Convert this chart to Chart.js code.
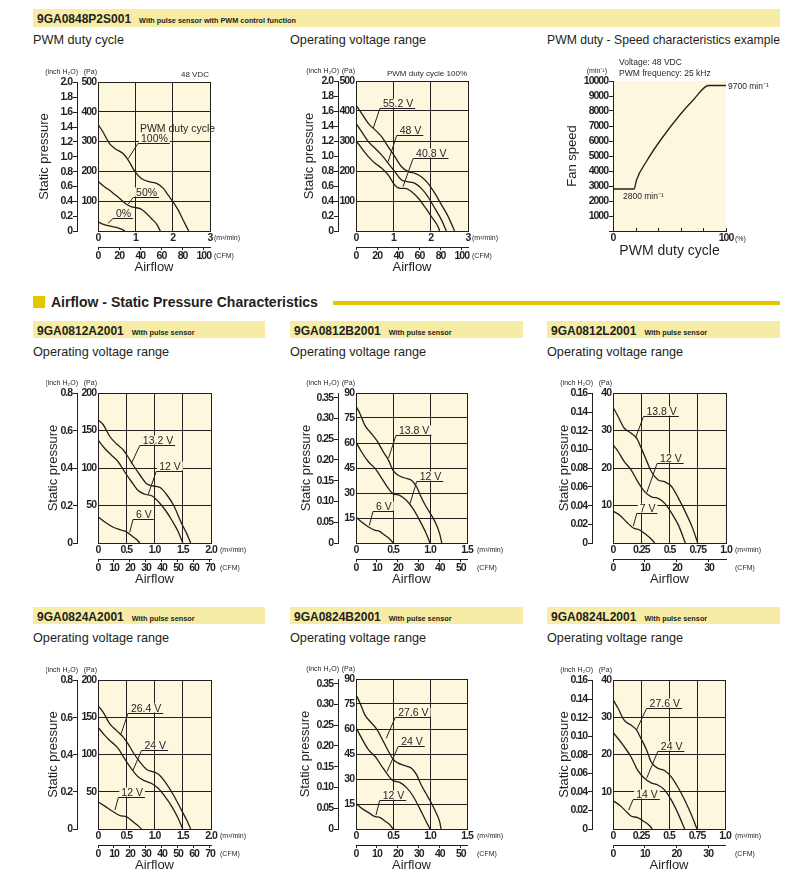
<!DOCTYPE html>
<html>
<head>
<meta charset="utf-8">
<title>9GA08 fan characteristics</title>
<script src="https://cdn.jsdelivr.net/npm/chart.js@4.4.1/dist/chart.umd.min.js"></script>
<style>
  body { margin: 0; width: 797px; height: 881px; position: relative; overflow: hidden; background: #fff;
         font-family: "Liberation Sans", Arial, sans-serif; color: #231f20; }
  .bar { position: absolute; height: 17px; line-height: 17px; background: #f6eca6; white-space: nowrap; }
  .bar b { font-size: 12px; margin-left: 4px; }
  .bar small { font-size: 7.3px; font-weight: bold; margin-left: 8px; color: #231f20; }
  .sub { position: absolute; font-size: 12.7px; line-height: 15px; white-space: nowrap; }
  .sect { position: absolute; left: 51px; top: 294px; font-size: 14px; line-height: 16px; font-weight: bold; white-space: nowrap; }
  canvas { position: absolute; }
</style>
</head>
<body>
<div class="bar" style="left:33px;top:9px;width:747px;height:18px;line-height:18px"><b>9GA0848P2S001</b><small>With pulse sensor with PWM control function</small></div>
<div class="sub" style="left:33px;top:33px">PWM duty cycle</div>
<div class="sub" style="left:290px;top:33px">Operating voltage range</div>
<div class="sub" style="left:547px;top:33px;font-size:12.2px">PWM duty - Speed characteristics example</div>

<div style="position:absolute;left:33px;top:296px;width:12px;height:12px;background:#e3c800"></div>
<div class="sect">Airflow - Static Pressure Characteristics</div>
<div style="position:absolute;left:333px;top:301px;width:447px;height:4px;background:#e3c800"></div>

<div class="bar" style="left:33px;top:321px;width:232px"><b>9GA0812A2001</b><small>With pulse sensor</small></div>
<div class="bar" style="left:290px;top:321px;width:233px"><b>9GA0812B2001</b><small>With pulse sensor</small></div>
<div class="bar" style="left:547px;top:321px;width:233px"><b>9GA0812L2001</b><small>With pulse sensor</small></div>
<div class="sub" style="left:33px;top:345px">Operating voltage range</div>
<div class="sub" style="left:290px;top:345px">Operating voltage range</div>
<div class="sub" style="left:547px;top:345px">Operating voltage range</div>

<div class="bar" style="left:33px;top:607px;width:232px"><b>9GA0824A2001</b><small>With pulse sensor</small></div>
<div class="bar" style="left:290px;top:607px;width:233px"><b>9GA0824B2001</b><small>With pulse sensor</small></div>
<div class="bar" style="left:547px;top:607px;width:233px"><b>9GA0824L2001</b><small>With pulse sensor</small></div>
<div class="sub" style="left:33px;top:631px">Operating voltage range</div>
<div class="sub" style="left:290px;top:631px">Operating voltage range</div>
<div class="sub" style="left:547px;top:631px">Operating voltage range</div>

<script>
const INK = '#231f20';
const CREAM = '#fcf7dd';
const SANS = '"Liberation Sans", Arial, sans-serif';
const PA_PER_INCH = 249.089;
const CFM_PER_M3 = 35.3147;

// ---- axis ticks ----
const paTicks500 = [0, 100, 200, 300, 400, 500];
const paLabels500 = ['', '100', '200', '300', '400', '500'];
const inchTicks20 = [0, 0.2, 0.4, 0.6, 0.8, 1.0, 1.2, 1.4, 1.6, 1.8, 2.0];
const inchLabels20 = ['0', '0.2', '0.4', '0.6', '0.8', '1.0', '1.2', '1.4', '1.6', '1.8', '2.0'];
const flowTicks3 = [0, 1, 2, 3];
const flowLabels3 = ['0', '1', '2', '3'];
const cfmTicks100 = [0, 20, 40, 60, 80, 100];

const paTicks200 = [0, 50, 100, 150, 200];
const paLabels200 = ['', '50', '100', '150', '200'];
const inchTicks08 = [0, 0.2, 0.4, 0.6, 0.8];
const inchLabels08 = ['0', '0.2', '0.4', '0.6', '0.8'];
const flowTicks2 = [0, 0.5, 1.0, 1.5, 2.0];
const flowLabels2 = ['0', '0.5', '1.0', '1.5', '2.0'];
const cfmTicks70 = [0, 10, 20, 30, 40, 50, 60, 70];

const paTicks90 = [0, 15, 30, 45, 60, 75, 90];
const paLabels90 = ['', '15', '30', '45', '60', '75', '90'];
const inchTicks035 = [0, 0.05, 0.10, 0.15, 0.20, 0.25, 0.30, 0.35];
const inchLabels035 = ['0', '0.05', '0.10', '0.15', '0.20', '0.25', '0.30', '0.35'];
const flowTicks15 = [0, 0.5, 1.0, 1.5];
const flowLabels15 = ['0', '0.5', '1.0', '1.5'];
const cfmTicks50 = [0, 10, 20, 30, 40, 50];

const paTicks40 = [0, 10, 20, 30, 40];
const paLabels40 = ['', '10', '20', '30', '40'];
const inchTicks016 = [0, 0.02, 0.04, 0.06, 0.08, 0.10, 0.12, 0.14, 0.16];
const inchLabels016 = ['0', '0.02', '0.04', '0.06', '0.08', '0.10', '0.12', '0.14', '0.16'];
const flowTicks1 = [0, 0.25, 0.5, 0.75, 1.0];
const flowLabels1 = ['0', '0.25', '0.5', '0.75', '1.0'];
const cfmTicks30 = [0, 10, 20, 30];

const speedTicks = [0, 1000, 2000, 3000, 4000, 5000, 6000, 7000, 8000, 9000, 10000];
const speedLabels = ['', '1000', '2000', '3000', '4000', '5000', '6000', '7000', '8000', '9000', '10000'];
const dutyTicks = [0, 20, 40, 60, 80, 100];
const dutyLabels = ['0', '', '', '', '', '100'];

// ---- 9GA0848P2S001, PWM duty cycle (m3/min, Pa) ----
const p2sQ100 = [0, 0.13, 0.31, 0.45, 0.67, 0.81, 0.99, 1.16, 1.39, 1.57, 1.75, 1.88, 2.01, 2.15, 2.28, 2.43];
const p2sP100 = [358, 333, 293, 277, 260, 238, 199, 176, 165, 160, 143, 120, 98, 70, 37, 0];
const p2sQ50 = [0, 0.18, 0.36, 0.58, 0.76, 0.9, 1.03, 1.16, 1.3, 1.43, 1.57, 1.67];
const p2sP50 = [167, 148, 132, 109, 90, 81, 78, 73, 59, 42, 23, 0];
const p2sQ0 = [0, 0.13, 0.31, 0.49, 0.63, 0.72];
const p2sP0 = [31, 23, 17, 12, 6, 0];

// ---- 9GA0848P2S001, operating voltage range ----
const p2sQ552 = [0, 0.15, 0.33, 0.51, 0.69, 0.86, 1.04, 1.22, 1.4, 1.58, 1.75, 1.93, 2.11, 2.29, 2.47, 2.64];
const p2sP552 = [420, 392, 359, 337, 314, 281, 248, 214, 198, 192, 181, 159, 126, 87, 48, 0];
const p2sQ48 = [0, 0.15, 0.33, 0.51, 0.69, 0.86, 1.04, 1.22, 1.4, 1.58, 1.75, 1.93, 2.11, 2.29, 2.42];
const p2sP48 = [359, 331, 298, 276, 253, 226, 198, 170, 164, 159, 142, 114, 76, 37, 0];
const p2sQ408 = [0, 0.15, 0.33, 0.51, 0.69, 0.86, 1.04, 1.18, 1.31, 1.49, 1.67, 1.84, 2.02, 2.2, 2.24];
const p2sP408 = [301, 276, 248, 226, 209, 187, 153, 142, 142, 131, 109, 81, 48, 14, 0];

// ---- 9GA0848P2S001, PWM duty (%) vs speed (min-1) ----
const dutyPct = [0, 18.7, 20.8, 29.7, 41.5, 59.3, 71.2, 84.6, 100];
const fanSpeed = [2800, 2800, 3400, 4650, 6000, 7750, 8750, 9700, 9700];

// ---- 9GA0812A2001 ----
const a12Q132 = [0, 0.09, 0.21, 0.33, 0.45, 0.53, 0.62, 0.74, 0.86, 0.98, 1.1, 1.22, 1.34, 1.48, 1.57, 1.64];
const a12P132 = [164, 158, 142, 132, 124, 115, 104, 91, 79, 76, 74, 64, 50, 26, 12.5, 0];
const a12Q12 = [0, 0.12, 0.24, 0.36, 0.47, 0.59, 0.71, 0.83, 0.95, 1.07, 1.19, 1.31, 1.42, 1.5];
const a12P12 = [137.5, 126, 117, 108, 95, 82, 70, 65, 63, 55, 44, 30, 15, 0];
const a12Q6 = [0, 0.12, 0.27, 0.42, 0.5, 0.59, 0.68, 0.74];
const a12P6 = [35, 28, 21, 17, 15, 10, 5, 0];

// ---- 9GA0812B2001 ----
const b12Q138 = [0, 0.054, 0.12, 0.19, 0.28, 0.37, 0.44, 0.5, 0.57, 0.66, 0.75, 0.82, 0.88, 0.95, 1.02, 1.09, 1.13, 1.16];
const b12P138 = [82, 77.6, 70.6, 66.6, 61.6, 54.6, 49.6, 43.6, 40.6, 39, 37.6, 33.6, 27.6, 21.6, 16.6, 10.6, 5.6, 0];
const b12Q12 = [0, 0.076, 0.17, 0.26, 0.35, 0.44, 0.5, 0.59, 0.68, 0.77, 0.86, 0.95, 1.0];
const b12P12 = [60.6, 54.6, 48.6, 44.6, 38.6, 32.6, 29.6, 28.6, 25.6, 20.6, 13.6, 5.6, 0];
const b12Q6 = [0, 0.076, 0.17, 0.26, 0.32, 0.39, 0.46, 0.5];
const b12P6 = [15.6, 12.6, 9.6, 7.6, 7, 4.6, 2.2, 0];

// ---- 9GA0812L2001 ----
const l12Q138 = [0, 0.045, 0.1, 0.16, 0.21, 0.25, 0.3, 0.34, 0.4, 0.46, 0.52, 0.58, 0.64, 0.7, 0.75];
const l12P138 = [36.2, 33.75, 30.6, 29.3, 27.9, 25.3, 21.7, 19, 16.8, 16.3, 15, 11.9, 8.3, 4.3, 0];
const l12Q12 = [0, 0.045, 0.1, 0.16, 0.22, 0.28, 0.34, 0.4, 0.46, 0.52, 0.58, 0.64];
const l12P12 = [26.2, 24.4, 21.7, 19.5, 16.3, 13.7, 12.3, 11.9, 10.5, 7.9, 4.7, 0];
const l12Q7 = [0, 0.06, 0.12, 0.18, 0.24, 0.3, 0.34, 0.37];
const l12P7 = [8.5, 7.4, 5.6, 4, 3.4, 2.05, 1, 0];

// ---- 9GA0824A2001 ----
const a24Q264 = [0, 0.09, 0.21, 0.33, 0.45, 0.53, 0.62, 0.74, 0.86, 0.98, 1.07, 1.19, 1.34, 1.48, 1.57, 1.64];
const a24P264 = [165.7, 156.8, 141, 132, 123, 114.5, 103, 90, 80, 76.6, 73.5, 63, 45, 25, 12, 0];
const a24Q24 = [0, 0.12, 0.24, 0.36, 0.47, 0.59, 0.71, 0.83, 0.95, 1.07, 1.19, 1.31, 1.42, 1.5];
const a24P24 = [136.7, 125.6, 116.7, 107.8, 94.4, 81, 70, 64.6, 61, 54.3, 43.2, 29.8, 14.2, 0];
const a24Q12 = [0, 0.12, 0.27, 0.39, 0.5, 0.62, 0.71, 0.77];
const a24P12 = [36.5, 30.7, 23.2, 17.8, 16.5, 9.8, 4.5, 0];

// ---- 9GA0824B2001 ----
const b24Q276 = [0, 0.054, 0.12, 0.19, 0.28, 0.37, 0.44, 0.5, 0.57, 0.66, 0.75, 0.82, 0.88, 0.95, 1.02, 1.09, 1.13, 1.15];
const b24P276 = [80.6, 75.6, 68.5, 64.5, 59.9, 52.5, 46.5, 41.9, 39.5, 38, 36.5, 32.5, 26.5, 21, 15.4, 9, 4.4, 0];
const b24Q24 = [0, 0.076, 0.17, 0.26, 0.35, 0.44, 0.5, 0.59, 0.68, 0.77, 0.86, 0.95, 1.0];
const b24P24 = [60.9, 54.5, 47.5, 43.5, 37.5, 31.9, 29, 28, 25, 19.8, 12.4, 4.4, 0];
const b24Q12 = [0, 0.076, 0.17, 0.26, 0.32, 0.39, 0.46, 0.5];
const b24P12 = [15.4, 12.4, 9.8, 7.4, 7, 4.8, 2.4, 0];

// ---- 9GA0824L2001 ----
const l24Q276 = [0, 0.045, 0.1, 0.16, 0.21, 0.25, 0.3, 0.34, 0.4, 0.46, 0.52, 0.58, 0.64, 0.7, 0.75];
const l24P276 = [34.8, 32.4, 29.2, 27.9, 26.6, 24.3, 21.2, 18.1, 16.3, 15.7, 14, 11.2, 7.8, 3.8, 0];
const l24Q24 = [0, 0.045, 0.1, 0.16, 0.22, 0.28, 0.34, 0.4, 0.46, 0.52, 0.58, 0.64];
const l24P24 = [25.9, 24.3, 22.1, 19.4, 15.8, 13.6, 12.4, 11.8, 10.5, 7.8, 4.2, 0];
const l24Q14 = [0, 0.06, 0.12, 0.16, 0.22, 0.28, 0.33, 0.35];
const l24P14 = [7.6, 6.4, 4.65, 3.5, 3.04, 1.97, 0.8, 0];

const tickFont = { family: SANS, size: 10.5, weight: 'bold' };

function fixedTicks(list) {
    return scale => { scale.ticks = list.map(value => ({ value })); };
}

// cream plot area, curve labels with leader lines, loose texts
function sheetPlugin(g, notes, texts, innerTicks) {
    return {
        id: 'sheet',
        beforeDraw(chart) {
            const { ctx, chartArea: a } = chart;
            ctx.letterSpacing = '0px';
            ctx.save();
            ctx.fillStyle = CREAM;
            ctx.fillRect(a.left, a.top, a.right - a.left, a.bottom - a.top);
            ctx.restore();
        },
        afterDatasetsDraw(chart) {
            const { ctx, chartArea: a } = chart;
            const xs = chart.scales[g.xId], ys = chart.scales[g.yId];
            ctx.save();
            ctx.strokeStyle = INK;
            ctx.fillStyle = INK;
            ctx.lineWidth = 1;
            (innerTicks || []).forEach(v => {
                const px = Math.round(xs.getPixelForValue(v)) + 0.5;
                ctx.beginPath();
                ctx.moveTo(px, a.bottom);
                ctx.lineTo(px, a.bottom - 3);
                ctx.stroke();
            });
            ctx.font = '10.5px ' + SANS;
            ctx.textAlign = 'left';
            ctx.textBaseline = 'alphabetic';
            notes.forEach(n => {
                const ux = xs.getPixelForValue(n.x), uy = Math.round(ys.getPixelForValue(n.y)) + 0.5;
                const w = ctx.measureText(n.t).width;
                ctx.fillStyle = CREAM;
                ctx.fillRect(ux + 1, uy - 10, w + 4, 9);
                ctx.fillStyle = INK;
                ctx.fillText(n.t, ux + 3, uy - 2);
                if (n.pre) ctx.fillText(n.pre, ux + 2, uy - 12);
                ctx.beginPath();
                ctx.moveTo(xs.getPixelForValue(n.tx), ys.getPixelForValue(n.ty));
                ctx.lineTo(ux, uy);
                ctx.lineTo(ux + w + 5, uy);
                ctx.stroke();
            });
            ctx.textBaseline = 'middle';
            texts.forEach(t => {
                ctx.font = t.f;
                ctx.textAlign = t.a || 'left';
                ctx.fillText(t.t, t.x - g.left, t.y - g.top);
            });
            ctx.restore();
            // tick labels are drawn next (ticks.z = 1): tighten them like the condensed print face
            ctx.letterSpacing = '-1px';
        },
        afterDraw(chart) {
            chart.ctx.letterSpacing = '0px';
        }
    };
}

function pqChart(g, curves, ax, notes, texts) {
    const left = g.titleX - 8, top = g.T - 28;
    const width = g.R - left + 45, height = g.B - g.T + 72;
    const cv = document.createElement('canvas');
    cv.width = width;
    cv.height = height;
    cv.style.left = left + 'px';
    cv.style.top = top + 'px';
    document.body.appendChild(cv);

    const paMax = ax.pa[ax.pa.length - 1];
    const flowMax = ax.flow[ax.flow.length - 1];
    const small = '7px ' + SANS;
    const allTexts = texts.concat([
        { t: '(inch H₂O)', x: g.outer + 1, y: g.T - 10, a: 'right', f: small },
        { t: '(Pa)', x: g.L - 1, y: g.T - 10, a: 'right', f: small },
        { t: '(m³/min)', x: g.R + g.ux, y: g.B + 7, f: small },
        { t: '(CFM)', x: g.R + g.ux, y: g.B + 25, f: small }
    ]);

    new Chart(cv, {
        type: 'line',
        data: {
            datasets: curves.map(([q, p]) => ({
                data: q.map((x, i) => ({ x, y: p[i] })),
                borderColor: INK,
                borderWidth: 1.3,
                pointRadius: 0,
                cubicInterpolationMode: 'monotone',
                xAxisID: 'flow',
                yAxisID: 'pa'
            }))
        },
        options: {
            responsive: false,
            animation: false,
            events: [],
            layout: { padding: { top: 28, right: width - (g.R - left), left: 0, bottom: 0 } },
            plugins: { legend: { display: false }, tooltip: { enabled: false } },
            scales: {
                pa: {
                    type: 'linear', position: 'left', weight: 0, min: 0, max: paMax,
                    afterBuildTicks: fixedTicks(ax.pa),
                    afterFit: s => { s.width = g.L - g.outer; },
                    grid: { color: INK, lineWidth: 1, drawTicks: false },
                    border: { color: INK, width: 1 },
                    ticks: { z: 1, font: tickFont, color: INK, padding: 2, autoSkip: false, callback: (v, i) => ax.paLbl[i] }
                },
                inch: {
                    type: 'linear', position: 'left', weight: 1, min: 0, max: paMax / PA_PER_INCH,
                    afterBuildTicks: fixedTicks(ax.inch),
                    afterFit: s => { s.width = g.outer - left; },
                    grid: { drawOnChartArea: false, color: INK, tickLength: 4 },
                    border: { color: INK, width: 1 },
                    ticks: { z: 1, font: tickFont, color: INK, padding: 1, autoSkip: false, callback: (v, i) => ax.inchLbl[i] },
                    title: { display: true, text: 'Static pressure', font: { family: SANS, size: 13 }, color: INK, padding: 0 }
                },
                flow: {
                    type: 'linear', position: 'bottom', weight: 0, min: 0, max: flowMax,
                    afterBuildTicks: fixedTicks(ax.flow),
                    afterFit: s => { s.height = 16; },
                    grid: { color: INK, lineWidth: 1, drawTicks: false },
                    border: { color: INK, width: 1 },
                    ticks: { z: 1, font: tickFont, color: INK, padding: 1, autoSkip: false, maxRotation: 0, callback: (v, i) => ax.flowLbl[i] }
                },
                cfm: {
                    type: 'linear', position: 'bottom', weight: 1, min: 0, max: flowMax * CFM_PER_M3,
                    afterBuildTicks: fixedTicks(ax.cfm),
                    afterFit: s => { s.height = 28; },
                    grid: { drawOnChartArea: false, color: INK, tickLength: 3 },
                    border: { color: INK, width: 1 },
                    ticks: { z: 1, font: tickFont, color: INK, padding: 0, autoSkip: false, maxRotation: 0, callback: (v, i) => String(ax.cfm[i]) },
                    title: { display: true, text: 'Airflow', font: { family: SANS, size: 13 }, color: INK, padding: 0 }
                }
            }
        },
        plugins: [sheetPlugin({ left, top, xId: 'flow', yId: 'pa' }, notes, allTexts)]
    });
}

const axes500 = { pa: paTicks500, paLbl: paLabels500, inch: inchTicks20, inchLbl: inchLabels20, flow: flowTicks3, flowLbl: flowLabels3, cfm: cfmTicks100 };
const axes200 = { pa: paTicks200, paLbl: paLabels200, inch: inchTicks08, inchLbl: inchLabels08, flow: flowTicks2, flowLbl: flowLabels2, cfm: cfmTicks70 };
const axes90 = { pa: paTicks90, paLbl: paLabels90, inch: inchTicks035, inchLbl: inchLabels035, flow: flowTicks15, flowLbl: flowLabels15, cfm: cfmTicks50 };
const axes40 = { pa: paTicks40, paLbl: paLabels40, inch: inchTicks016, inchLbl: inchLabels016, flow: flowTicks1, flowLbl: flowLabels1, cfm: cfmTicks30 };

// PWM duty cycle
pqChart({ L: 98, T: 82, R: 210, B: 231, outer: 77, titleX: 45, ux: 4 },
    [[p2sQ100, p2sP100], [p2sQ50, p2sP50], [p2sQ0, p2sP0]], axes500,
    [
        { t: '100%', pre: 'PWM duty cycle', x: 1.07, y: 296, tx: 0.81, ty: 243 },
        { t: '50%', x: 0.94, y: 115, tx: 0.81, ty: 90 },
        { t: '0%', x: 0.4, y: 45, tx: 0.27, ty: 26 }
    ],
    [{ t: '48 VDC', x: 209, y: 75, a: 'right', f: '8px ' + SANS }]);

// Operating voltage range, 48 V
pqChart({ L: 356, T: 81, R: 468, B: 231, outer: 338, titleX: 310, ux: 4 },
    [[p2sQ552, p2sP552], [p2sQ48, p2sP48], [p2sQ408, p2sP408]], axes500,
    [
        { t: '55.2 V', x: 0.64, y: 411, tx: 0.46, ty: 342 },
        { t: '48 V', x: 1.09, y: 320, tx: 0.86, ty: 231 },
        { t: '40.8 V', x: 1.53, y: 244, tx: 1.26, ty: 148 }
    ],
    [{ t: 'PWM duty cycle 100%', x: 467, y: 74, a: 'right', f: '8px ' + SANS }]);

pqChart({ L: 98, T: 393, R: 211, B: 543, outer: 77, titleX: 54, ux: 9 },
    [[a12Q132, a12P132], [a12Q12, a12P12], [a12Q6, a12P6]], axes200,
    [
        { t: '13.2 V', x: 0.74, y: 131, tx: 0.59, ty: 106 },
        { t: '12 V', x: 1.03, y: 96, tx: 0.89, ty: 65 },
        { t: '6 V', x: 0.62, y: 32, tx: 0.56, ty: 14 }
    ], []);

pqChart({ L: 356, T: 393, R: 467, B: 543, outer: 338, titleX: 307, ux: 10 },
    [[b12Q138, b12P138], [b12Q12, b12P12], [b12Q6, b12P6]], axes90,
    [
        { t: '13.8 V', x: 0.54, y: 64.6, tx: 0.44, ty: 51 },
        { t: '12 V', x: 0.82, y: 37, tx: 0.73, ty: 23.6 },
        { t: '6 V', x: 0.23, y: 19, tx: 0.18, ty: 10.6 }
    ], []);

pqChart({ L: 613, T: 393, R: 726, B: 543, outer: 592, titleX: 565, ux: 9 },
    [[l12Q138, l12P138], [l12Q12, l12P12], [l12Q7, l12P7]], axes40,
    [
        { t: '13.8 V', x: 0.27, y: 34, tx: 0.2, ty: 28.1 },
        { t: '12 V', x: 0.39, y: 21.25, tx: 0.3, ty: 13.5 },
        { t: '7 V', x: 0.21, y: 8, tx: 0.18, ty: 4.55 }
    ], []);

pqChart({ L: 98, T: 680, R: 211, B: 829, outer: 77, titleX: 54, ux: 9 },
    [[a24Q264, a24P264], [a24Q24, a24P24], [a24Q12, a24P12]], axes200,
    [
        { t: '26.4 V', x: 0.53, y: 156, tx: 0.4, ty: 126 },
        { t: '24 V', x: 0.77, y: 106.5, tx: 0.62, ty: 78.8 },
        { t: '12 V', x: 0.36, y: 43.2, tx: 0.3, ty: 25.4 }
    ], []);

pqChart({ L: 356, T: 679, R: 467, B: 829, outer: 338, titleX: 306, ux: 10 },
    [[b24Q276, b24P276], [b24Q24, b24P24], [b24Q12, b24P12]], axes90,
    [
        { t: '27.6 V', x: 0.53, y: 67, tx: 0.41, ty: 54.5 },
        { t: '24 V', x: 0.57, y: 50, tx: 0.42, ty: 34.5 },
        { t: '12 V', x: 0.32, y: 17.4, tx: 0.27, ty: 8.4 }
    ], []);

pqChart({ L: 613, T: 680, R: 725, B: 829, outer: 592, titleX: 565, ux: 10 },
    [[l24Q276, l24P276], [l24Q24, l24P24], [l24Q14, l24P14]], axes40,
    [
        { t: '27.6 V', x: 0.3, y: 32.6, tx: 0.21, ty: 26.6 },
        { t: '24 V', x: 0.4, y: 21, tx: 0.3, ty: 13.6 },
        { t: '14 V', x: 0.18, y: 8, tx: 0.14, ty: 5.1 }
    ], []);

// PWM duty - speed characteristics
(function () {
    const g = { L: 613, T: 81, R: 726, B: 231, titleX: 573 };
    const left = g.titleX - 8, top = g.T - 28;
    const width = g.R - left + 52, height = g.B - g.T + 57;
    const cv = document.createElement('canvas');
    cv.width = width;
    cv.height = height;
    cv.style.left = left + 'px';
    cv.style.top = top + 'px';
    document.body.appendChild(cv);
    const small = '7px ' + SANS;
    const texts = [
        { t: '(min⁻¹)', x: 607, y: 71, a: 'right', f: small },
        { t: 'Voltage: 48 VDC', x: 619, y: 63, f: '8.5px ' + SANS },
        { t: 'PWM frequency: 25 kHz', x: 619, y: 74, f: '8.5px ' + SANS },
        { t: '9700 min⁻¹', x: 728, y: 87, f: '8.5px ' + SANS },
        { t: '2800 min⁻¹', x: 623, y: 197, f: '8.5px ' + SANS },
        { t: '(%)', x: 735, y: 239, f: small }
    ];
    new Chart(cv, {
        type: 'line',
        data: {
            datasets: [{
                data: dutyPct.map((x, i) => ({ x, y: fanSpeed[i] })),
                borderColor: INK,
                borderWidth: 1.3,
                pointRadius: 0,
                cubicInterpolationMode: 'monotone',
                xAxisID: 'duty',
                yAxisID: 'speed'
            }]
        },
        options: {
            responsive: false,
            animation: false,
            events: [],
            layout: { padding: { top: 28, right: width - (g.R - left), left: 0, bottom: 0 } },
            plugins: { legend: { display: false }, tooltip: { enabled: false } },
            scales: {
                speed: {
                    type: 'linear', position: 'left', min: 0, max: 10000,
                    afterBuildTicks: fixedTicks(speedTicks),
                    afterFit: s => { s.width = g.L - left; },
                    grid: { drawOnChartArea: false, color: INK, tickLength: 4 },
                    border: { color: INK, width: 1 },
                    ticks: { z: 1, font: tickFont, color: INK, padding: 1, autoSkip: false, callback: (v, i) => speedLabels[i] },
                    title: { display: true, text: 'Fan speed', font: { family: SANS, size: 13 }, color: INK, padding: 0 }
                },
                duty: {
                    type: 'linear', position: 'bottom', min: 0, max: 100,
                    afterBuildTicks: fixedTicks(dutyTicks),
                    afterFit: s => { s.height = 29; },
                    grid: { drawOnChartArea: false, drawTicks: false },
                    border: { color: INK, width: 1 },
                    ticks: { z: 1, font: tickFont, color: INK, padding: 1, autoSkip: false, maxRotation: 0, callback: (v, i) => dutyLabels[i] },
                    title: { display: true, text: 'PWM duty cycle', font: { family: SANS, size: 14 }, color: INK, padding: 0 }
                }
            }
        },
        plugins: [sheetPlugin({ left, top, xId: 'duty', yId: 'speed' }, [], texts, dutyTicks.slice(1))]
    });
})();
</script>
</body>
</html>
